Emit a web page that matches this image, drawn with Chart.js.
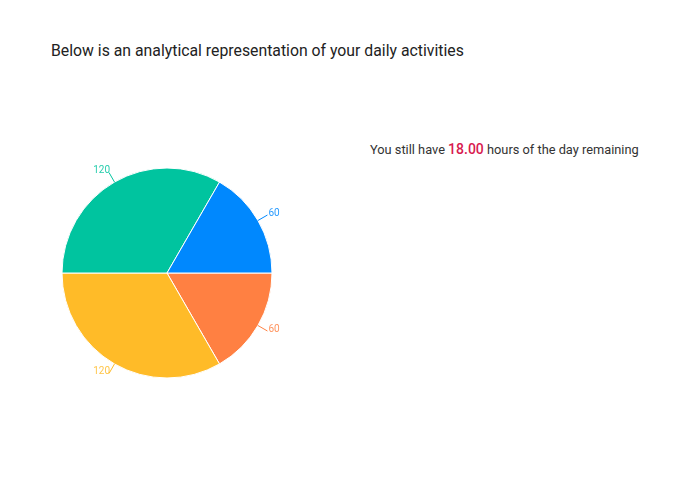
<!DOCTYPE html>
<html>
<head>
<meta charset="utf-8">
<script src="https://cdn.jsdelivr.net/npm/chart.js@4"></script>
<style>
  html, body { margin: 0; padding: 0; background: #fff; width: 700px; height: 496px; overflow: hidden; font-family: Roboto, sans-serif; }
  #title { position: absolute; left: 51px; top: 41px; font-size: 15.8px; color: #222; white-space: nowrap; }
  #remain { position: absolute; left: 370px; top: 141px; font-size: 12.8px; color: #333; white-space: nowrap; }
  #remain b { color: #d81b4f; font-weight: 500; font-size: 14px; }
  #wrap { position: absolute; left: 17px; top: 123px; width: 300px; height: 300px; }
</style>
</head>
<body>
<div id="title">Below is an analytical representation of your daily activities</div>
<div id="remain">You still have <b id="hrs"></b> hours of the day remaining</div>
<div id="wrap"><canvas id="c" width="300" height="300"></canvas></div>
<script>
// Data (in counter-clockwise order starting at 3 o'clock, as drawn)
const categories = ["Activity 1", "Activity 2", "Activity 3", "Activity 4"];
const minutes = [60, 120, 120, 60];
const colors = ["#0088FE", "#00C49F", "#FFBB28", "#FF8042"];
const remainingHours = 18.00;

document.getElementById('hrs').textContent = remainingHours.toFixed(2);

// Chart.js draws clockwise, so reverse to reproduce the counter-clockwise layout
const revLabels = categories.slice().reverse();
const revData = minutes.slice().reverse();
const revColors = colors.slice().reverse();

const labelPlugin = {
  id: 'outerLabels',
  afterDatasetsDraw(chart) {
    const ctx = chart.ctx;
    const meta = chart.getDatasetMeta(0);
    ctx.save();
    ctx.font = '10px Roboto, sans-serif';
    meta.data.forEach((arc, i) => {
      const p = arc.getProps(['x','y','startAngle','endAngle','outerRadius'], true);
      const mid = (p.startAngle + p.endAngle) / 2;
      const r0 = p.outerRadius;
      const r1 = r0 + 11;
      const x0 = p.x + Math.cos(mid) * r0, y0 = p.y + Math.sin(mid) * r0;
      const x1 = p.x + Math.cos(mid) * r1, y1 = p.y + Math.sin(mid) * r1;
      const col = revColors[i];
      ctx.strokeStyle = col;
      ctx.lineWidth = 1;
      ctx.beginPath(); ctx.moveTo(x0, y0); ctx.lineTo(x1, y1); ctx.stroke();
      ctx.fillStyle = col;
      ctx.globalAlpha = 0.85;
      ctx.textBaseline = 'middle';
      const right = Math.cos(mid) >= 0;
      ctx.textAlign = right ? 'start' : 'end';
      ctx.fillText(String(revData[i]), x1 + 1, y1 - 2);
      ctx.globalAlpha = 1;
    });
    ctx.restore();
  }
};

new Chart(document.getElementById('c'), {
  type: 'pie',
  data: {
    labels: revLabels,
    datasets: [{
      data: revData,
      backgroundColor: revColors,
      borderColor: '#ffffff',
      borderWidth: 1,
      hoverOffset: 0
    }]
  },
  options: {
    responsive: false,
    animation: false,
    rotation: 90,
    layout: { padding: 44.5 },
    plugins: { legend: { display: false }, tooltip: { enabled: false } }
  },
  plugins: [labelPlugin]
});
</script>
</body>
</html>
